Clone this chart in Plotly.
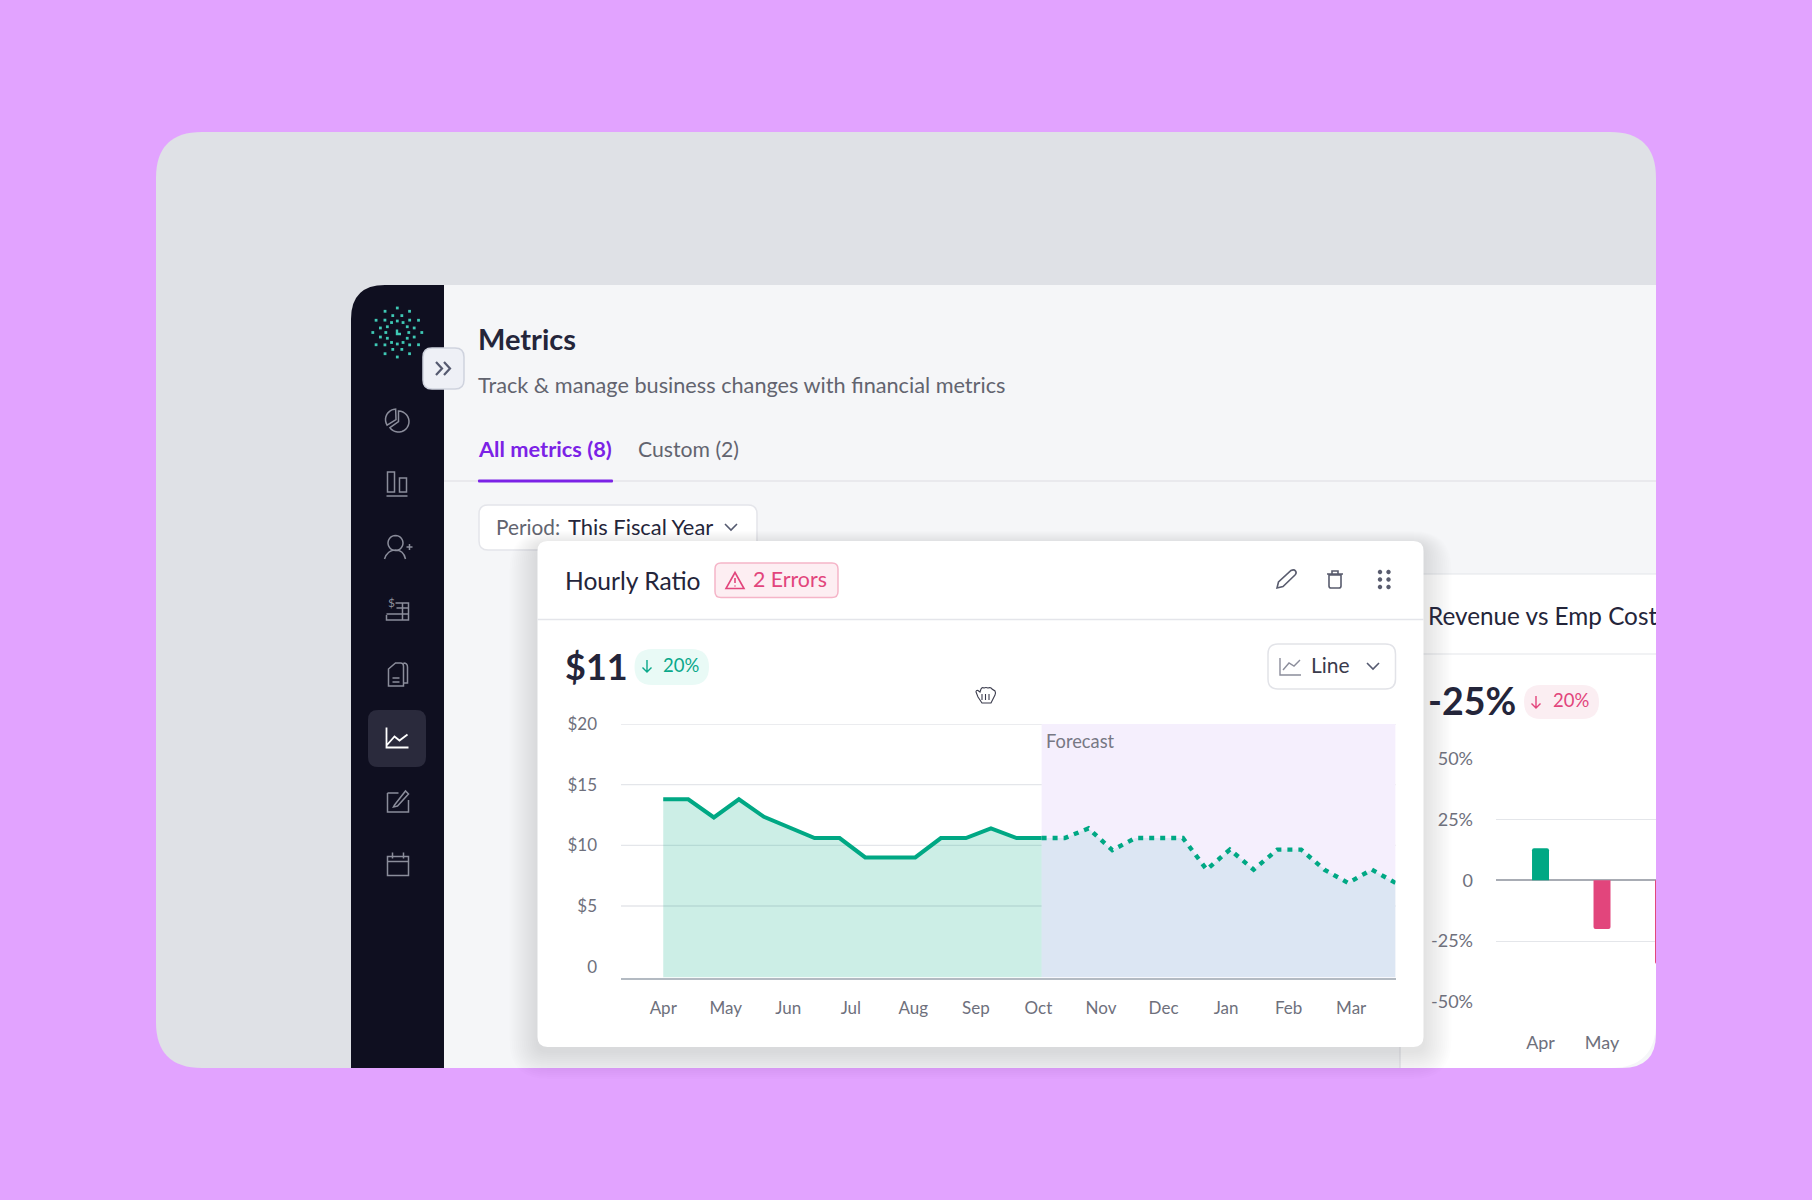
import math
import re

import plotly.graph_objects as go

W, H = 1812, 1200
FONT = "Lato"

months = ["Apr", "May", "Jun", "Jul", "Aug", "Sep", "Oct", "Nov", "Dec", "Jan", "Feb", "Mar"]
y_ticks = [0, 5, 10, 15, 20]
y_tick_text = ["0", "$5", "$10", "$15", "$20"]
y_grid = [5, 10, 15, 20]
y_floor = -0.9

# x is in months from Apr, points don't sit on the month labels
actual_x = [0, 0.40, 0.81, 1.21, 1.61, 2.02, 2.42, 2.82, 3.23, 3.63, 4.03, 4.44, 4.84, 5.24, 5.65, 6.05]
actual_y = [13.8, 13.8, 12.3, 13.8, 12.35, 11.45, 10.6, 10.6, 9.0, 9.0, 9.0, 10.6, 10.6, 11.4, 10.6, 10.6]
forecast_x = [6.05, 6.42, 6.80, 7.18, 7.55, 7.93, 8.31, 8.69, 9.06, 9.44, 9.82, 10.20, 10.57, 10.95, 11.33, 11.71]
forecast_y = [10.6, 10.6, 11.4, 9.6, 10.6, 10.6, 10.6, 8.0, 9.65, 8.0, 9.65, 9.65, 8.0, 6.9, 8.0, 6.9]

cost_months = ["Apr", "May", "Jun"]
cost_values = [13.2, -20, -34.4]
cost_ticks = [-50, -25, 0, 25, 50]
cost_tick_text = ["-50%", "-25%", "0", "25%", "50%"]

TEAL = "#00a884"
PINK = "#e2457c"
DARK = "#24253a"
GREY = "#62646f"
ICON = "#8b8d9b"

shapes = []
notes = []


def to_paper(d, ox=0, oy=0):
    out, is_x = [], True
    for tok in re.findall(r"[MLQCZ]|-?[\d.]+", d):
        if tok.isalpha():
            out.append(tok)
            is_x = True
        elif is_x:
            out.append(f"{(float(tok) + ox) / W:.5f},")
            is_x = False
        else:
            out.append(f"{1 - (float(tok) + oy) / H:.5f}")
            is_x = True
    return " ".join(out)


def draw(d, fill=None, line=None, width=1.5, ox=0, oy=0, opacity=1):
    shapes.append(dict(
        type="path", xref="paper", yref="paper", layer="below",
        path=to_paper(d, ox, oy), fillcolor=fill or "rgba(0,0,0,0)", opacity=opacity,
        line=dict(color=line or "rgba(0,0,0,0)", width=width if line else 0),
    ))


def rr(x0, y0, x1, y1, r, tl=True, tr=True, br=True, bl=True):
    d = f"M{x0 + (r if tl else 0)} {y0} L{x1 - (r if tr else 0)} {y0} "
    if tr:
        d += f"Q{x1} {y0} {x1} {y0 + r} "
    d += f"L{x1} {y1 - (r if br else 0)} "
    if br:
        d += f"Q{x1} {y1} {x1 - r} {y1} "
    d += f"L{x0 + (r if bl else 0)} {y1} "
    if bl:
        d += f"Q{x0} {y1} {x0} {y1 - r} "
    d += f"L{x0} {y0 + (r if tl else 0)} "
    if tl:
        d += f"Q{x0} {y0} {x0 + r} {y0} "
    return d + "Z"


def arc(cx, cy, r, a0, a1, start="M"):
    n = max(6, int(abs(a1 - a0) / 12))
    pts = []
    for i in range(n + 1):
        a = math.radians(a0 + (a1 - a0) * i / n)
        pts.append(f"{'L' if i or start == 'L' else 'M'}{cx + r * math.sin(a):.2f} {cy - r * math.cos(a):.2f}")
    return " ".join(pts)


def label(x, y, text, size, color=DARK, weight=400, anchor="left"):
    notes.append(dict(
        xref="paper", yref="paper", x=x / W, y=1 - y / H, text=text, showarrow=False,
        xanchor=anchor, yanchor="middle", borderpad=0,
        font=dict(family=FONT, size=size, color=color, weight=weight),
    ))


# page, canvas, app frame
draw(rr(156, 132, 1656, 1068, 46), fill="#dfe1e6")
draw(rr(351, 285, 1656, 1068, 34, tl=True, tr=False, br=True, bl=False), fill="#f5f6f8")
draw(rr(351, 285, 444, 1068, 34, tl=True, tr=False, br=False, bl=False), fill="#0f0f20")

# logo
for r, n, off in [(24.5, 12, 0), (17.5, 12, 15), (11.5, 12, 0)]:
    for i in range(n):
        a = math.radians(off + i * 360 / n)
        cx, cy = 397.3 + r * math.sin(a), 332.5 - r * math.cos(a)
        draw(f"M{cx - 1.4:.2f} {cy - 1.4:.2f} L{cx + 1.4:.2f} {cy - 1.4:.2f} L{cx + 1.4:.2f} {cy + 1.4:.2f} L{cx - 1.4:.2f} {cy + 1.4:.2f} Z", fill="#3fc9b5")
draw("M397 329.5 L397 334 L401 334", line="#3fc9b5", width=2.4)

# sidebar icons
draw(rr(368, 710, 426, 767, 10), fill="#2a2a3c")
sx = 397.5
draw(arc(1, 1, 10.5, 0, 235) + " L1 1 Z", line=ICON, ox=sx, oy=420.6)
draw(arc(-1.5, -1, 10.5, 238, 358) + " L-1.5 -1 Z", line=ICON, ox=sx, oy=420.6)
draw("M-10 -12 L-3 -12 L-3 8 L-10 8 Z M2 -6 L9 -6 L9 8 L2 8 Z M-11 12 L10 12", line=ICON, ox=sx, oy=484)
draw(arc(-2, -5, 7.5, 0, 360) + " M-13 11 Q-10 2 -2 2 Q6 2 8 11 M9 -1 L15 -1 M12 -4 L12 2", line=ICON, ox=sx, oy=548)
draw("M-2 -8 L11 -8 L11 9 L-11 9 L-11 4 M-1 -3 L11 -3 M-11 3 L11 3 M5 -8 L5 9", line=ICON, ox=sx, oy=611)
label(387, 603, "$", 12, ICON)
draw("M-9 -6 L-2 -12 L3 -12 Q6 -12 6 -9 L6 11 L-9 11 Z M-5 3 L2 3 M-5 7 L2 7 M6 -12 Q10 -12 10 -8 L10 8 L6 8", line=ICON, ox=sx, oy=675)
draw("M-11 -11 L-11 9 L11 9 M-11 7 L-3 -2 L2 2 L10 -4", line="#ffffff", width=1.8, ox=sx, oy=738.5)
draw("M-10 -8 L1 -8 M-10 -8 L-10 11 L11 11 L11 -1 M-3 4 L8 -10 L11 -7 L0 5 L-4 6 Z", line=ICON, ox=sx, oy=801)
draw("M-10 -8 L11 -8 L11 11 L-10 11 Z M-10 -3 L11 -3 M-5 -12 L-5 -6 M6 -12 L6 -6", line=ICON, ox=sx, oy=864.5)

# collapse toggle
draw(rr(423, 348, 464, 389, 9), fill="#eef0f6", line="#cfd3de")
draw("M436 362 L442 368.5 L436 375 M444 362 L450 368.5 L444 375", line="#555a70", width=2.2)

# header
label(477, 338, "Metrics", 29, weight=700)
label(477, 385, "Track &amp; manage business changes with financial metrics", 21.7, GREY)
label(477, 448.5, "All metrics (8)", 21.8, "#7b22e6", weight=700)
label(637, 448.5, "Custom (2)", 21.2, GREY)
draw("M444 481 L1656 481", line="#e4e5ea", width=1.5)
draw(rr(478, 479.5, 613, 482.5, 1), fill="#7b22e6")
draw(rr(479, 505, 757, 550, 9), fill="#ffffff", line="#e4e5ea")
label(495, 526, "Period:", 20.8, GREY)
label(566.5, 526, "This Fiscal Year", 21.9, DARK)
draw("M725 524 L731 530 L737 524", line="#555a70", width=1.6)

# card behind, runs off the canvas on the right
draw(rr(1400, 574, 1656, 1068, 46, tl=False, tr=False, br=True, bl=False), fill="#ffffff")
draw("M1400 574 L1656 574 M1400 654 L1656 654 M1400 1047 L1400 1068", line="#e4e5ea", width=1.2)
label(1427, 701, "-25%", 37.5, weight=700)
draw(rr(1524, 685, 1599, 719, 17), fill="#fbeef2")
draw("M1536 696 L1536 708 M1531.5 703.5 L1536 708 L1540.5 703.5", line=PINK, width=1.4)
label(1552, 699.5, "20%", 18.5, PINK)

# main card with soft shadow
for i in range(14, 0, -1):
    draw(rr(537.5 - i * 2, 541 - i + 4, 1423.5 + i * 2, 1047 + i * 2 + 4, 10 + i * 2), fill="#20243c", opacity=0.008)
draw(rr(537.5, 541, 1423.5, 1047, 10), fill="#ffffff")
draw("M537.5 619.5 L1423.5 619.5", line="#e4e5ea", width=1.5)
label(564, 580, "Hourly Ratio", 24.6, DARK)
draw(rr(715, 563, 838, 597.5, 6), fill="#fdeef2", line="#f5b5c8")
draw("M735 572.5 L744 588.5 L726 588.5 Z M735 578 L735 583 M735 585.5 L735 586.5", line=PINK, width=1.6)
label(751.5, 579, "2 Errors", 21.3, PINK)
draw("M1277 588 L1278.5 582 L1291 570.5 Q1294 569 1295.5 571 Q1297 573 1295 575 L1283 586.5 Z", line="#595c6e", width=1.6)
draw("M1329 575 L1341 575 L1341 586 Q1341 588 1339 588 L1331 588 Q1329 588 1329 586 Z M1327 574 L1343 574 M1332 574 L1332 571 L1338 571 L1338 574", line="#595c6e", width=1.6)
for gx in (1380, 1388.5):
    for gy in (572, 579.5, 587):
        draw(arc(gx, gy, 2.2, 0, 360) + " Z", fill="#595c6e")

label(564, 666, "$11", 36, weight=700)
draw(rr(634.5, 649, 709, 685, 18), fill="#e9faf6")
draw("M647 660 L647 672 M642.5 667.5 L647 672 L651.5 667.5", line="#0aa88a", width=1.4)
label(662, 665, "20%", 18.5, "#0aa88a")

draw(rr(1268, 644, 1395.5, 689, 10), fill="#ffffff", line="#e2e3e8")
draw("M1280 658 L1280 675 L1301 675 M1283 670 L1289 663 L1294 666 L1300 660", line=ICON, width=1.4)
label(1309.5, 664.5, "Line", 21, "#3a3b4c")
draw("M1367 663 L1373 669 L1379 663", line="#555a70", width=1.6)

# cursor
draw("M978 697 L976 692 Q976 690 978 690.5 L980 692 L981 689 Q982 687 984 688 Q986 687 988 688 Q991 687 992 689 L995 691 Q996 693 995 695 L992 701 L991 703 L982 703 Z M982 694 L982 700 M985.5 694 L985.5 700 M989 694 L989 700",
     fill="#ffffff", line="#3a3b4c", width=1.1)

label(1045, 741, "Forecast", 18.3, "#777884")

fig = go.Figure()

fig.add_trace(go.Scatter(x=actual_x, y=[y_floor] * len(actual_x), mode="lines", line=dict(width=0),
                         hoverinfo="skip", xaxis="x", yaxis="y"))
fig.add_trace(go.Scatter(x=actual_x, y=actual_y, mode="lines", fill="tonexty", fillcolor="rgba(0,168,132,0.2)",
                         line=dict(color=TEAL, width=4.1), xaxis="x", yaxis="y"))
fig.add_trace(go.Scatter(x=forecast_x, y=[y_floor] * len(forecast_x), mode="lines", line=dict(width=0),
                         hoverinfo="skip", xaxis="x", yaxis="y"))
fig.add_trace(go.Scatter(x=forecast_x, y=forecast_y, mode="lines", fill="tonexty", fillcolor="rgba(120,194,203,0.2)",
                         line=dict(color=TEAL, width=4.4, dash="5px,6px"), xaxis="x", yaxis="y", cliponaxis=False))

fig.add_trace(go.Bar(x=[0, 1, 2], y=cost_values, width=0.276, marker=dict(color=[TEAL, PINK, PINK], line=dict(width=0)),
                     xaxis="x2", yaxis="y2"))

# title has to be cut at the canvas edge, annotations can't clip
fig.add_trace(go.Scatter(x=[8], y=[0.5], mode="text", text=["Revenue vs Emp Cost"], textposition="middle right",
                         textfont=dict(family=FONT, size=24.3, color=DARK), cliponaxis=True, hoverinfo="skip",
                         xaxis="x3", yaxis="y3"))

# forecast band and grid go under the traces
shapes.append(dict(type="rect", xref="x", yref="y", x0=forecast_x[0], x1=forecast_x[-1], y0=y_floor, y1=y_ticks[-1],
                   layer="below", fillcolor="#f5effd", line=dict(width=0)))
for v in y_grid:
    shapes.append(dict(type="line", xref="x domain", yref="y", x0=0, x1=1, y0=v, y1=v, layer="below",
                       line=dict(color="#e4e6ea", width=1.3)))

tick_font = dict(family=FONT, size=17, color="#6e707c")
side_font = dict(family=FONT, size=18, color="#6e707c")
fig.update_layout(
    width=W, height=H, margin=dict(l=0, r=0, t=0, b=0), autosize=False,
    paper_bgcolor="#e2a3ff", plot_bgcolor="rgba(0,0,0,0)", showlegend=False, barcornerradius=2,
    shapes=shapes, annotations=notes, font=dict(family=FONT),
    xaxis=dict(domain=[621 / W, 1395.6 / W], range=[-0.675, 11.71], tickmode="array", tickvals=list(range(12)),
               ticktext=months, tickfont=tick_font, ticks="", showgrid=False, zeroline=False, showline=True,
               linecolor="#b3bac2", linewidth=1.5, ticklabelstandoff=14, anchor="y", automargin=False),
    yaxis=dict(domain=[1 - 977.6 / H, 1 - 724 / H], range=[y_floor, y_ticks[-1]], tickmode="array", tickvals=y_ticks,
               ticktext=y_tick_text, tickfont=tick_font, ticks="", showgrid=False, zeroline=False,
               ticklabelstandoff=23, anchor="x", automargin=False),
    xaxis2=dict(domain=[1496 / W, 1656 / W], range=[-0.724, 1.878], tickmode="array", tickvals=[0, 1],
                ticktext=cost_months[:2], tickfont=side_font, ticks="", showgrid=False, zeroline=False,
                ticklabelstandoff=28, anchor="y2", automargin=False),
    yaxis2=dict(domain=[1 - 1001.7 / H, 1 - 759 / H], range=[-50, 50], tickmode="array", tickvals=cost_ticks,
                ticktext=cost_tick_text, tickfont=side_font, ticks="", showgrid=True, gridcolor="#e4e6ea", gridwidth=1.3,
                zeroline=True, zerolinecolor="#a8acb4", zerolinewidth=1.5, ticklabelstandoff=22, anchor="x2", automargin=False),
    xaxis3=dict(domain=[1420 / W, 1656 / W], range=[0, 236], visible=False, anchor="y3", automargin=False),
    yaxis3=dict(domain=[1 - 639 / H, 1 - 599 / H], range=[0, 1], visible=False, anchor="x3", automargin=False),
)

fig.write_html("out.html", config=dict(displayModeBar=False), post_script="document.body.style.margin='0';")
